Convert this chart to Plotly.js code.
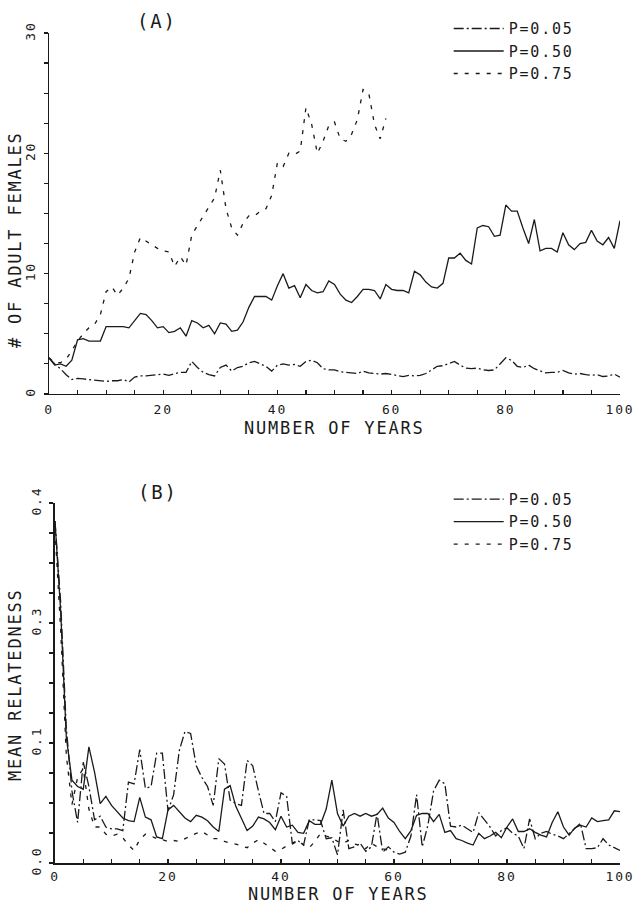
<!DOCTYPE html>
<html>
<head>
<meta charset="utf-8">
<script src="https://cdn.plot.ly/plotly-3.0.1.min.js"></script>
<style>
html,body{margin:0;padding:0;background:#fff;}
#chart{width:634px;height:903px;}
text{letter-spacing:1.8px;}
</style>
</head>
<body>
<div id="chart"></div>
<script>
// ---- data ----
const seriesNames = ["P=0.05", "P=0.50", "P=0.75"];
const xTickVals = [0, 20, 40, 60, 80, 100];
const yTickValsA = [0, 10, 20, 30];
const yTickValsB = [0, 0.4/3, 0.8/3, 0.4];
const yTickTextB = ["0.0", "0.1", "0.3", "0.4"];

// Panel A: # of adult females, one value per year (0..100)
const femalesP05 = [3.0,2.5,2.1,1.6,1.2,1.3,1.25,1.2,1.2,1.1,
  1.05,1.1,1.1,1.2,1.0,1.4,1.5,1.5,1.55,1.6,
  1.65,1.55,1.7,1.8,1.8,2.7,2.2,1.8,1.6,1.5,
  2.2,2.4,1.9,2.2,2.3,2.6,2.7,2.5,2.3,1.9,
  2.4,2.5,2.4,2.45,2.3,2.7,2.8,2.6,2.1,2.0,
  2.0,1.85,1.8,1.8,1.7,1.9,1.75,1.7,1.65,1.7,
  1.6,1.5,1.45,1.55,1.5,1.55,1.7,2.0,2.3,2.35,
  2.5,2.7,2.4,2.15,2.1,2.15,2.0,1.95,2.0,2.5,
  3.0,2.8,2.3,2.2,2.4,2.1,1.9,1.75,1.8,1.8,
  1.95,1.75,1.65,1.7,1.6,1.55,1.6,1.45,1.5,1.65,
  1.4];
const femalesP50 = [3.0,2.4,2.5,2.3,2.8,4.5,4.6,4.4,4.4,4.4,
  5.6,5.6,5.6,5.6,5.5,6.1,6.7,6.6,6.1,5.5,
  5.6,5.1,5.2,5.5,4.8,6.1,5.9,5.5,5.7,5.0,
  5.9,5.8,5.2,5.3,6.0,7.2,8.1,8.1,8.1,7.8,
  9.0,10.0,8.8,9.0,8.0,9.1,8.6,8.4,8.5,9.4,
  9.1,8.3,7.8,7.6,8.1,8.7,8.7,8.6,7.9,9.1,
  8.7,8.6,8.6,8.4,10.2,9.9,9.3,8.9,8.8,9.2,
  11.3,11.3,11.7,11.1,10.8,13.8,14.0,13.9,13.1,13.2,
  15.7,15.2,15.2,13.8,12.5,14.5,11.9,12.1,12.1,11.8,
  13.4,12.4,12.0,12.5,12.6,13.6,12.7,12.4,13.0,12.1,
  14.4];
const femalesP75 = [3.0,2.6,2.6,2.9,3.6,4.4,5.0,5.5,5.8,6.6,
  8.5,8.9,8.2,8.8,9.6,11.8,13.0,12.7,12.4,12.1,
  11.9,11.8,10.6,11.4,10.7,13.2,14.0,14.8,15.6,16.3,
  18.6,15.4,13.8,13.2,14.2,14.8,14.8,15.2,15.4,16.5,
  19.2,18.9,20.0,19.9,20.2,23.8,22.4,20.0,21.0,22.3,
  22.6,21.2,21.0,21.6,22.8,25.3,25.0,22.4,21.2,22.9];

// Panel B: mean relatedness, one value per year
const relatedP05 = [0.38,0.29,0.15,0.08,0.045,0.112,0.085,0.048,0.052,0.040,
  0.038,0.038,0.036,0.090,0.088,0.126,0.083,0.085,0.122,0.122,
  0.058,0.076,0.125,0.146,0.144,0.108,0.095,0.085,0.064,0.116,
  0.110,0.070,0.066,0.064,0.114,0.108,0.080,0.055,0.055,0.046,
  0.078,0.074,0.022,0.025,0.020,0.048,0.048,0.047,0.027,0.028,
  0.009,0.059,0.016,0.018,0.022,0.013,0.018,0.055,0.012,0.018,
  0.012,0.010,0.012,0.030,0.076,0.018,0.042,0.080,0.092,0.088,
  0.041,0.040,0.042,0.038,0.034,0.056,0.048,0.040,0.030,0.036,
  0.039,0.033,0.030,0.016,0.049,0.027,0.033,0.035,0.032,0.030,
  0.027,0.033,0.039,0.044,0.016,0.016,0.017,0.027,0.020,0.017,
  0.014];
const relatedP50 = [0.38,0.28,0.14,0.092,0.085,0.082,0.129,0.101,0.066,0.074,
  0.064,0.057,0.050,0.047,0.046,0.073,0.051,0.048,0.029,0.027,
  0.059,0.064,0.057,0.050,0.046,0.053,0.051,0.047,0.040,0.035,
  0.082,0.086,0.063,0.050,0.036,0.041,0.051,0.049,0.045,0.037,
  0.052,0.040,0.042,0.034,0.033,0.047,0.043,0.043,0.060,0.092,
  0.055,0.041,0.052,0.055,0.052,0.055,0.052,0.054,0.061,0.050,
  0.045,0.035,0.027,0.036,0.053,0.055,0.055,0.046,0.054,0.034,
  0.036,0.027,0.025,0.022,0.020,0.033,0.027,0.030,0.034,0.028,
  0.040,0.049,0.035,0.035,0.038,0.034,0.031,0.029,0.045,0.057,
  0.040,0.031,0.039,0.042,0.040,0.050,0.046,0.047,0.048,0.058,
  0.057];
const relatedP75 = [0.37,0.26,0.12,0.065,0.095,0.105,0.060,0.040,0.040,0.032,
  0.030,0.032,0.028,0.020,0.014,0.026,0.032,0.030,0.027,0.026,
  0.024,0.025,0.024,0.027,0.030,0.033,0.035,0.031,0.027,0.027,
  0.024,0.022,0.021,0.019,0.017,0.022,0.026,0.022,0.017,0.013,
  0.015,0.019,0.021,0.025,0.020,0.017,0.024,0.033,0.030,0.028,
  0.024,0.022,0.025,0.021,0.020,0.016,0.022,0.018,0.016,0.014];

// ---- styling ----
const INK = "#1a1a1a";
const FONT = "DejaVu Sans Mono, monospace";
const dashes = ["10px,3px,2px,3px", "solid", "4px,7px"];
const yearsOf = arr => arr.map((_, i) => i);

function mk(y, k, xa, ya, leg) {
  return {
    x: yearsOf(y), y: y, type: "scatter", mode: "lines",
    name: seriesNames[k], xaxis: xa, yaxis: ya, legend: leg,
    line: {color: INK, width: 1.3, dash: dashes[k]},
    hoverinfo: "skip"
  };
}

const data = [
  mk(femalesP05, 0, "x", "y", "legend"),
  mk(femalesP50, 1, "x", "y", "legend"),
  mk(femalesP75, 2, "x", "y", "legend"),
  mk(relatedP05, 0, "x2", "y2", "legend2"),
  mk(relatedP50, 1, "x2", "y2", "legend2"),
  mk(relatedP75, 2, "x2", "y2", "legend2")
];

function xAxis(domain, anchor, standoff) {
  return {
    domain: domain, anchor: anchor, range: [0, 100],
    showline: true, linecolor: INK, linewidth: 1.5,
    showgrid: false, zeroline: false,
    tickmode: "array", tickvals: xTickVals,
    ticks: "inside", ticklen: 4, tickwidth: 1.2, tickcolor: INK,
    ticklabelstandoff: standoff, ticklabeloverflow: "allow",
    minor: {dtick: 5, tick0: 0, ticks: "inside", ticklen: 4, tickwidth: 1.2, tickcolor: INK},
    tickfont: {family: FONT, size: 13, color: INK}
  };
}

function legendAt(yTop) {
  return {
    x: 0.70, y: yTop, xanchor: "left", yanchor: "top",
    bgcolor: "rgba(0,0,0,0)", borderwidth: 0, itemwidth: 50,
    font: {family: FONT, size: 15, color: INK}, traceorder: "normal"
  };
}

const layout = {
  width: 634, height: 903,
  margin: {l: 49, r: 14, t: 33, b: 40},
  paper_bgcolor: "#fff", plot_bgcolor: "#fff",
  font: {family: FONT, color: INK},
  xaxis: xAxis([0, 1], "y", 3),
  xaxis2: xAxis([0.0105, 1], "y2", 1),
  yaxis: {
    domain: [0.5651, 1], anchor: "x", range: [0, 30],
    showline: true, linecolor: INK, linewidth: 1.5,
    showgrid: false, zeroline: false,
    tickmode: "array", tickvals: yTickValsA, tickangle: -90,
    ticks: "outside", ticklen: 4, tickwidth: 1.2, tickcolor: INK,
    ticklabelstandoff: 3,
    minor: {dtick: 2.5, tick0: 0, ticks: "outside", ticklen: 4, tickwidth: 1.2, tickcolor: INK},
    tickfont: {family: FONT, size: 13, color: INK}
  },
  yaxis2: {
    domain: [0, 0.4337], anchor: "x2", range: [0, 0.4],
    showline: true, linecolor: INK, linewidth: 1.5,
    showgrid: false, zeroline: false,
    tickmode: "array", tickvals: yTickValsB, ticktext: yTickTextB, tickangle: -90,
    ticks: "outside", ticklen: 4, tickwidth: 1.2, tickcolor: INK,
    ticklabelstandoff: 3,
    minor: {dtick: 0.4/12, tick0: 0, ticks: "outside", ticklen: 4, tickwidth: 1.2, tickcolor: INK},
    tickfont: {family: FONT, size: 13, color: INK}
  },
  legend: legendAt(1.025),
  legend2: legendAt(0.458),
  showlegend: true,
  annotations: [
    {text: "(A)", xref: "paper", yref: "paper", x: (157-49)/571, y: (863-21)/830,
     xanchor: "center", yanchor: "middle", showarrow: false, font: {family: FONT, size: 19, color: INK}},
    {text: "(B)", xref: "paper", yref: "paper", x: (158-49)/571, y: (863-492)/830,
     xanchor: "center", yanchor: "middle", showarrow: false, font: {family: FONT, size: 19, color: INK}},
    {text: "NUMBER OF YEARS", xref: "paper", yref: "paper", x: (334-49)/571, y: (863-428)/830,
     xanchor: "center", yanchor: "middle", showarrow: false, font: {family: FONT, size: 17, color: INK}},
    {text: "NUMBER OF YEARS", xref: "paper", yref: "paper", x: (338-49)/571, y: (863-894)/830,
     xanchor: "center", yanchor: "middle", showarrow: false, font: {family: FONT, size: 17, color: INK}},
    {text: "# OF ADULT FEMALES", xref: "paper", yref: "paper", x: (15-49)/571, y: (863-240)/830,
     xanchor: "center", yanchor: "middle", textangle: -90, showarrow: false, font: {family: FONT, size: 17, color: INK}},
    {text: "MEAN RELATEDNESS", xref: "paper", yref: "paper", x: (15-49)/571, y: (863-685)/830,
     xanchor: "center", yanchor: "middle", textangle: -90, showarrow: false, font: {family: FONT, size: 17, color: INK}}
  ]
};

Plotly.newPlot("chart", data, layout, {displayModeBar: false, staticPlot: true});
</script>
</body>
</html>
